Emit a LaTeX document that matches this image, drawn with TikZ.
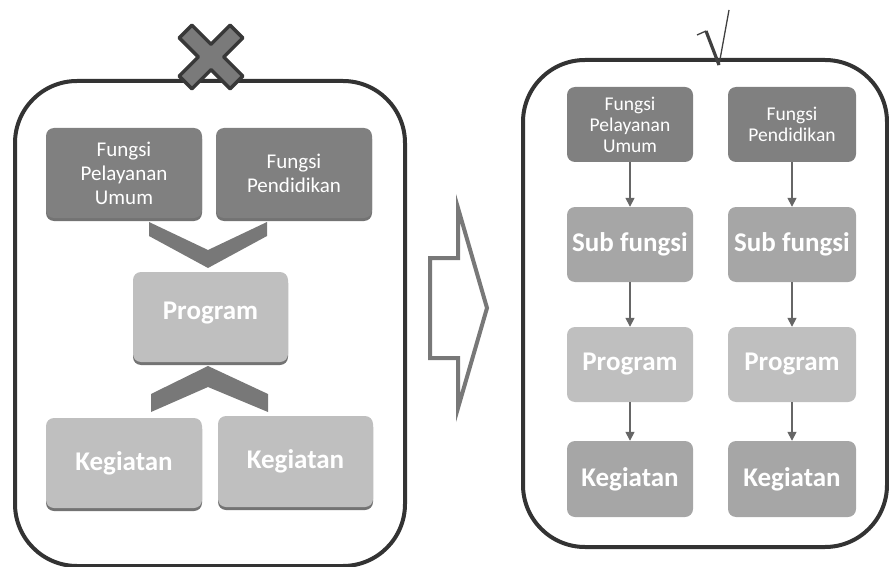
\documentclass[tikz,border=0pt]{standalone}
\usepackage{fontspec}
\setmainfont{Carlito}
\usetikzlibrary{arrows.meta,shadows}

\begin{document}
\begin{tikzpicture}[x=1pt, y=-1pt, >={Triangle[width=9pt,length=9pt]},
    panel/.style={draw=black!80, line width=4pt, rounded corners=62pt},
    card/.style={rounded corners=8pt, text=white, align=center, inner sep=0pt},
    shade/.style={drop shadow={shadow xshift=0pt, shadow yshift=-3pt, fill=black!55, opacity=1}},
    bigtext/.style={font=\fontsize{27}{30}\selectfont\bfseries},
    smalltext/.style={font=\fontsize{21}{24}\selectfont},
    tinytext/.style={font=\fontsize{19.5}{21}\selectfont},
    flow/.style={->, black!60, line width=1.5pt},
    chevron/.style={fill=black!53}]
    \useasboundingbox (0,0) rectangle (889,567);

    % left side: the old way
    \draw[panel] (15,81) rectangle (405,566);
    \node[card, shade, smalltext, fill=black!50, minimum width=156pt, minimum height=90pt] (lf1) at (124,173) {Fungsi\\Pelayanan\\Umum};
    \node[card, shade, smalltext, fill=black!50, minimum width=156pt, minimum height=90pt] (lf2) at (294,173) {Fungsi\\Pendidikan};
    \node[card, shade, bigtext, fill=black!25, minimum width=155pt, minimum height=90pt,
          text height=19pt, text depth=14pt] (lprog) at (210.5,317) {Program};
    \node[card, shade, bigtext, fill=black!25, minimum width=156pt, minimum height=90pt] (lkeg1) at (124,463) {Kegiatan};
    \node[card, shade, bigtext, fill=black!25, minimum width=155pt, minimum height=91pt] (lkeg2) at (295.5,461.5) {Kegiatan};

    \fill[chevron] (149,222) -- (208,250) -- (267,222) -- (267,236) -- (208,268) -- (149,236) -- cycle;
    \fill[chevron] (151,412) -- (151,394) -- (208,366) -- (268,394) -- (268,412) -- (208,387) -- cycle;

    % cross on top
    \begin{scope}[shift={(211,57)}, rotate=45]
        \draw[fill=black!52, draw=black!78, line width=3.5pt, line join=round]
            (9,9) -- (36,9) -- (36,-9) -- (9,-9) -- (9,-36) -- (-9,-36) -- (-9,-9) -- (-36,-9)
            -- (-36,9) -- (-9,9) -- (-9,36) -- (9,36) -- cycle;
    \end{scope}

    % big outlined arrow
    \draw[black!53, line width=4pt, line join=miter]
        (430,258) -- (458,258) -- (458,208) -- (487,308) -- (458,408) -- (458,358) -- (430,358) -- cycle;

    % right side: the new way
    \draw[panel] (523,60) rectangle (887,547);
    \draw[black!75, line width=1.3pt] (697,35) -- (706,31);
    \draw[black!75, line width=3.2pt] (706,31) -- (719,65);
    \draw[black!75, line width=1.3pt] (719,65) -- (729,10);

    \node[card, tinytext, fill=black!50, minimum width=126pt, minimum height=75pt] (rf1) at (630,124.5) {Fungsi\\Pelayanan\\Umum};
    \node[card, tinytext, fill=black!50, minimum width=128pt, minimum height=75pt] (rf2) at (792,124.5) {Fungsi\\Pendidikan};
    \node[card, bigtext, fill=black!35, minimum width=126pt, minimum height=75pt] (rsub1) at (630,244.5) {Sub fungsi};
    \node[card, bigtext, fill=black!35, minimum width=128pt, minimum height=75pt] (rsub2) at (792,244.5) {Sub fungsi};
    \node[card, bigtext, fill=black!25, minimum width=126pt, minimum height=75pt] (rprog1) at (630,364.5) {Program};
    \node[card, bigtext, fill=black!25, minimum width=128pt, minimum height=75pt] (rprog2) at (792,364.5) {Program};
    \node[card, bigtext, fill=black!35, minimum width=126pt, minimum height=76pt] (rkeg1) at (630,479) {Kegiatan};
    \node[card, bigtext, fill=black!35, minimum width=128pt, minimum height=76pt] (rkeg2) at (792,479) {Kegiatan};

    \draw[flow] (rf1) -- (rsub1);
    \draw[flow] (rsub1) -- (rprog1);
    \draw[flow] (rprog1) -- (rkeg1);
    \draw[flow] (rf2) -- (rsub2);
    \draw[flow] (rsub2) -- (rprog2);
    \draw[flow] (rprog2) -- (rkeg2);
\end{tikzpicture}
\end{document}
